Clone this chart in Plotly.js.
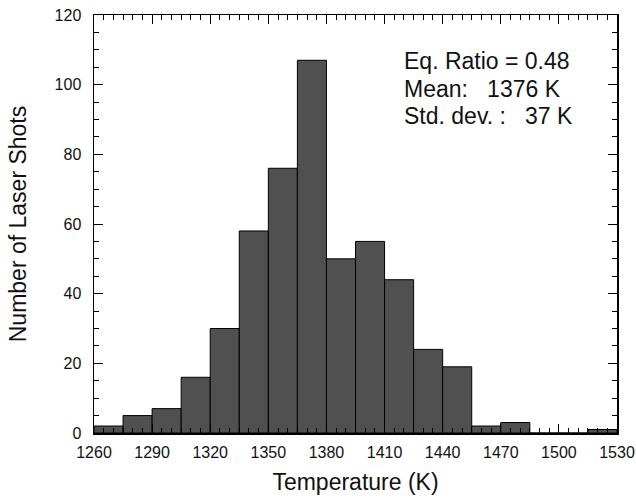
<!DOCTYPE html>
<html>
<head>
<meta charset="utf-8">
<script src="https://cdn.plot.ly/plotly-3.0.1.min.js"></script>
<style>html,body{margin:0;padding:0;background:#fff;}#chart{width:636px;height:500px;}</style>
</head>
<body>
<div id="chart"></div>
<script>
const binStarts = [1260,1275,1290,1305,1320,1335,1350,1365,1380,1395,1410,1425,1440,1455,1470,1485,1500,1515];
const counts    = [2,5,7,16,30,58,76,107,50,55,44,24,19,2,3,0,0,1];
const binWidth = 15;
const xTickVals = [1260,1290,1320,1350,1380,1410,1440,1470,1500,1530];
const yTickVals = [0,20,40,60,80,100,120];
const infoLines = ["Eq. Ratio = 0.48", "Mean:\u00A0\u00A0\u00A01376 K", "Std. dev. :\u00A0\u00A0\u00A037 K"];

const FONT = "Liberation Sans, Arial, Helvetica, sans-serif";

const trace = {
  type: 'bar',
  x: binStarts,
  y: counts,
  width: binStarts.map(() => binWidth),
  offset: 0,
  marker: {color: '#505050', line: {color: '#000', width: 1}},
  hoverinfo: 'x+y'
};

const layout = {
  width: 636, height: 500,
  margin: {l: 94, r: 19, t: 15, b: 67},
  paper_bgcolor: '#fff', plot_bgcolor: '#fff',
  showlegend: false,
  bargap: 0,
  font: {family: FONT, color: '#111', size: 16},
  xaxis: {
    range: [1260, 1530],
    tickvals: xTickVals,
    ticktext: xTickVals.map(String),
    ticks: 'inside', ticklen: 9, tickwidth: 1, tickcolor: '#000',
    minor: {dtick: 5, tick0: 1260, ticks: 'inside', ticklen: 5, tickcolor: '#000', tickwidth: 1},
    showline: true, linecolor: '#000', linewidth: 1.5, mirror: 'ticks',
    showgrid: false, zeroline: false,
    ticklabelstandoff: 4,
    tickfont: {family: FONT, size: 16, color: '#111'},
    title: {text: 'Temperature (K)', font: {family: FONT, size: 23, color: '#111'}, standoff: 14},
    layer: 'above traces'
  },
  yaxis: {
    range: [0, 120],
    tickvals: yTickVals,
    ticks: 'inside', ticklen: 9, tickwidth: 1, tickcolor: '#000',
    minor: {dtick: 5, tick0: 0, ticks: 'inside', ticklen: 5, tickcolor: '#000', tickwidth: 1},
    showline: true, linecolor: '#000', linewidth: 1.5, mirror: 'ticks',
    showgrid: false, zeroline: false,
    ticklabelstandoff: 8,
    tickfont: {family: FONT, size: 16, color: '#111'},
    title: {text: 'Number of Laser Shots', font: {family: FONT, size: 23, color: '#111'}, standoff: 21},
    layer: 'above traces'
  },
  annotations: infoLines.map((t, i) => ({
    text: t, xref: 'paper', yref: 'paper',
    x: 0.589, y: 0.890 - i * 0.066,
    xanchor: 'left', yanchor: 'middle', showarrow: false,
    font: {family: FONT, size: 23, color: '#111'}
  }))
};

Plotly.newPlot('chart', [trace], layout, {displayModeBar: false, staticPlot: true});
</script>
</body>
</html>
